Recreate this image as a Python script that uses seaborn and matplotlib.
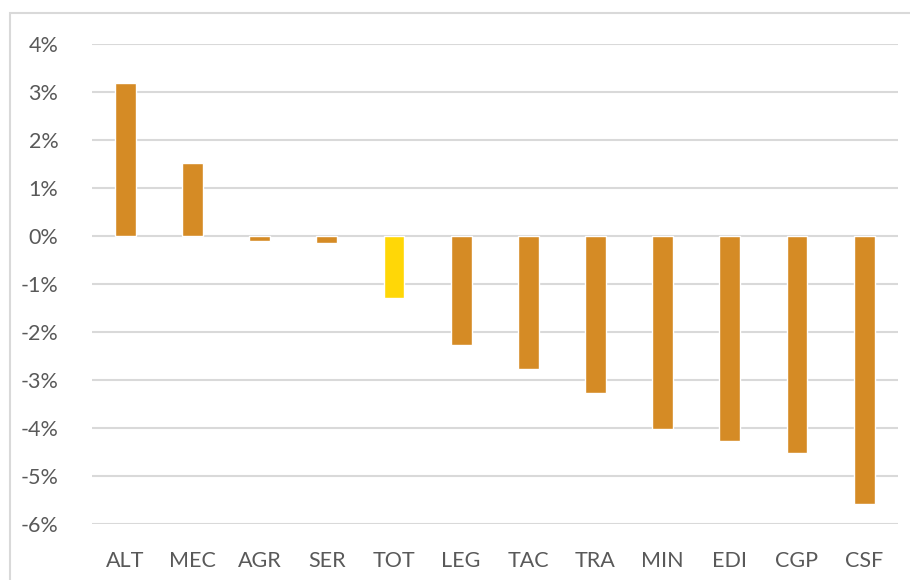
import matplotlib
matplotlib.use("Agg")
import matplotlib.pyplot as plt
from matplotlib.patches import Rectangle
import seaborn as sns
import pandas as pd

# Sector codes and their change (%)
sectors = ["ALT", "MEC", "AGR", "SER", "TOT", "LEG", "TAC", "TRA", "MIN", "EDI", "CGP", "CSF"]
change_pct = [3.19, 1.52, -0.11, -0.15, -1.29, -2.27, -2.78, -3.27, -4.03, -4.27, -4.52, -5.60]
y_ticks = [4, 3, 2, 1, 0, -1, -2, -3, -4, -5, -6]
y_tick_labels = ["4%", "3%", "2%", "1%", "0%", "-1%", "-2%", "-3%", "-4%", "-5%", "-6%"]

BAR = "#D58B25"
TOTAL = "#FFD707"
GRID = "#D9D9D9"
TEXT = "#595959"

sns.set_theme(style="white")
plt.rcParams["font.family"] = ["Lato", "DejaVu Sans"]
plt.rcParams["axes.unicode_minus"] = False

df = pd.DataFrame({"sector": sectors, "change": change_pct})
palette = {s: (TOTAL if s == "TOT" else BAR) for s in sectors}

fig = plt.figure(figsize=(9.1, 5.8), dpi=100)
ax = fig.add_axes([0.1008, 0.0971, 0.8857, 0.8270])

sns.barplot(data=df, x="sector", y="change", hue="sector", palette=palette,
            legend=False, width=0.31, saturation=1, ax=ax, zorder=3)

ax.set_ylim(-6, 4)
ax.set_xlim(-0.5, len(sectors) - 0.5)
ax.set_yticks(y_ticks)
ax.set_yticklabels(y_tick_labels)
ax.yaxis.grid(True, color=GRID, linewidth=1.5, zorder=0)
ax.set_axisbelow(True)
for sp in ax.spines.values():
    sp.set_visible(False)
ax.set_xlabel("")
ax.set_ylabel("")
ax.tick_params(axis="y", length=0, pad=24, labelsize=15.5, labelcolor=TEXT)
ax.tick_params(axis="x", length=0, pad=20, labelsize=15.5, labelcolor=TEXT)

# chart area border
fig.add_artist(Rectangle((10 / 910, -0.05), 1.0, 1 - 13 / 580 + 0.05,
                         transform=fig.transFigure, fill=False,
                         edgecolor=GRID, linewidth=1.5))

fig.savefig("out.png", dpi=100)
